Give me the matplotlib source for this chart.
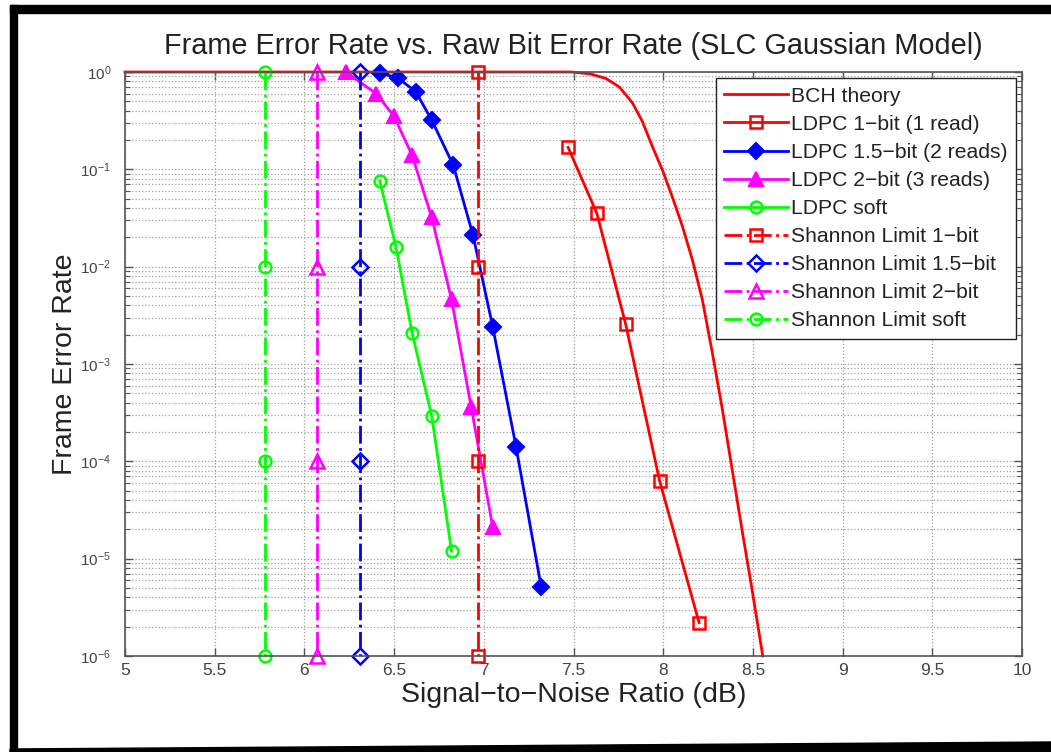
import matplotlib
matplotlib.use("Agg")
import matplotlib.pyplot as plt
import numpy as np
from matplotlib.patches import Polygon, Rectangle

plt.rcParams['font.family'] = ['Liberation Sans', 'DejaVu Sans']
plt.rcParams['mathtext.fontset'] = 'custom'
plt.rcParams['mathtext.rm'] = 'Liberation Sans'

# ---------------- data ----------------
bch_snr = [5.0, 7.40, 7.49, 7.59, 7.68, 7.756, 7.829, 7.884, 7.940, 7.996, 8.051, 8.107,
           8.163, 8.218, 8.274, 8.330, 8.385, 8.441, 8.497, 8.555]
bch_fer = [1.0, 1.0, 1.0, 0.96, 0.86, 0.70, 0.48, 0.31, 0.171, 0.098, 0.052, 0.026,
           0.0117, 0.0046, 0.0013, 3.4e-4, 8.1e-5, 1.9e-5, 4.6e-6, 1e-6]

ldpc1_snr = [7.47, 7.63, 7.79, 7.98, 8.20]
ldpc1_fer = [0.168, 0.0353, 0.0026, 6.3e-5, 2.2e-6]

ldpc15_snr = [6.42, 6.52, 6.62, 6.71, 6.83, 6.94, 7.05, 7.18, 7.32]
ldpc15_fer = [0.98, 0.87, 0.63, 0.32, 0.11, 0.021, 0.0024, 1.4e-4, 5.1e-6]

ldpc2_snr = [6.23, 6.40, 6.50, 6.60, 6.71, 6.82, 6.93, 7.05]
ldpc2_fer = [1.0, 0.60, 0.35, 0.14, 0.032, 0.0046, 3.6e-4, 2.1e-5]

ldpcs_snr = [6.42, 6.51, 6.60, 6.71, 6.82]
ldpcs_fer = [0.076, 0.016, 0.0021, 2.9e-4, 1.2e-5]

shannon_fer = [1.0, 1e-2, 1e-4, 1e-6]
shannon1_snr = 6.97
shannon15_snr = 6.31
shannon2_snr = 6.07
shannons_snr = 5.78

x_ticks = [5, 5.5, 6, 6.5, 7, 7.5, 8, 8.5, 9, 9.5, 10]
x_ticklabels = ['5', '5.5', '6', '6.5', '7', '7.5', '8', '8.5', '9', '9.5', '10']
y_exponents = [-6, -5, -4, -3, -2, -1, 0]

labels = ['BCH theory', 'LDPC 1\u2212bit (1 read)', 'LDPC 1.5\u2212bit (2 reads)',
          'LDPC 2\u2212bit (3 reads)', 'LDPC soft', 'Shannon Limit 1\u2212bit',
          'Shannon Limit 1.5\u2212bit', 'Shannon Limit 2\u2212bit', 'Shannon Limit soft']

RED, BLUE, MAG, GRN = (1, 0, 0), (0, 0, 1), (1, 0, 1), (0, 1, 0)

# ---------------- figure ----------------
fig = plt.figure(figsize=(10.51, 7.52), dpi=100)
W, H = 1051, 752
ax = fig.add_axes([125 / W, 1 - 656 / H, (1022 - 125) / W, (656 - 72) / H])

lw = 2.0
ax.semilogy(bch_snr, bch_fer, '-', color=RED, lw=lw, label=labels[0])
ax.semilogy(ldpc1_snr, ldpc1_fer, '-s', color=RED, lw=lw, ms=8.5, mfc='none', mew=1.8, label=labels[1])
ax.semilogy(ldpc15_snr, ldpc15_fer, '-D', color=BLUE, lw=lw, ms=8, mfc=BLUE, mew=1.5, label=labels[2])
ax.semilogy(ldpc2_snr, ldpc2_fer, '-^', color=MAG, lw=lw, ms=10.5, mfc=MAG, mew=1.5, label=labels[3])
ax.semilogy(ldpcs_snr, ldpcs_fer, '-o', color=GRN, lw=lw, ms=8.5, mfc='none', mew=1.8, label=labels[4])

ax.semilogy([shannon1_snr] * 4, shannon_fer, '-.s', color=RED, lw=lw, ms=8.5, mfc='none', mew=1.8, label=labels[5])
ax.semilogy([shannon15_snr] * 4, shannon_fer, '-.D', color=BLUE, lw=lw, ms=8, mfc='none', mew=1.8, label=labels[6])
ax.semilogy([shannon2_snr] * 4, shannon_fer, '-.^', color=MAG, lw=lw, ms=10.5, mfc='none', mew=1.8, label=labels[7])
ax.semilogy([shannons_snr] * 4, shannon_fer, '-.o', color=GRN, lw=lw, ms=8.5, mfc='none', mew=1.8, label=labels[8])

for l in ax.get_lines():
    l.set_clip_on(False)

ax.set_xlim(5, 10)
ax.set_ylim(1e-6, 1)
ax.set_xticks(x_ticks)
ax.set_xticklabels(x_ticklabels)
ax.set_yticks([10.0 ** e for e in y_exponents])
ax.set_yticklabels([r'$\mathregular{10^{%d}}$' % e for e in y_exponents])
minor = [m * 10.0 ** e for e in y_exponents[:-1] for m in range(2, 10)]
ax.set_yticks(minor, minor=True)
ax.set_yticklabels([], minor=True)

ax.grid(True, which='major', axis='both', linestyle=':', color='#a0a0a0', lw=0.9)
ax.grid(True, which='minor', axis='y', linestyle=':', color='#a0a0a0', lw=0.9)
ax.set_axisbelow(True)

ax.tick_params(which='both', direction='in', top=True, right=True, colors='#555555',
               labelcolor='#444444', labelsize=12.5)
ax.tick_params(which='major', length=6, width=1)
ax.tick_params(which='minor', length=3.5, width=0.8)
ax.tick_params(axis='x', pad=5)
ax.tick_params(axis='y', pad=10, labelsize=11)
for s in ax.spines.values():
    s.set_color('#555555')
    s.set_linewidth(1.2)

ax.set_title('Frame Error Rate vs. Raw Bit Error Rate (SLC Gaussian Model)',
             fontsize=20.8, color='#222222', pad=13)
ax.set_xlabel('Signal\u2212to\u2212Noise Ratio (dB)', fontsize=20.5, color='#222222', labelpad=3)
ax.set_ylabel('Frame Error Rate', fontsize=20.5, color='#222222', labelpad=1.5)

leg = ax.legend(loc='upper right', fontsize=15.2, frameon=True, fancybox=False,
                framealpha=1, edgecolor='#222222', borderaxespad=0.3,
                handlelength=3.0, handletextpad=0.15, labelspacing=0.43,
                borderpad=0.4)
leg.get_frame().set_linewidth(1.0)
for t in leg.get_texts():
    t.set_color('#222222')

# black frame around the image
fig.patches.append(Rectangle((10 / W, 0), 7 / W, 1 - 5 / H, transform=fig.transFigure,
                             color='black', zorder=10))
fig.patches.append(Rectangle((10 / W, 1 - 13 / H), 1 - 10 / W, 8 / H, transform=fig.transFigure,
                             color='black', zorder=10))
fig.patches.append(Polygon([(10 / W, 1 - 749 / H), (1.0, 1 - 742 / H), (1.0, 0), (10 / W, 0)],
                           closed=True, transform=fig.transFigure, color='black', zorder=10))

fig.savefig('out.png', dpi=100)
